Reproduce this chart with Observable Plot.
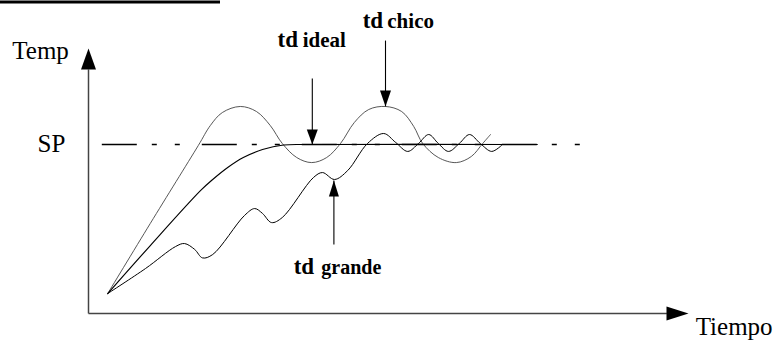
<!DOCTYPE html>
<html>
<head>
<meta charset="utf-8">
<script src="https://cdn.jsdelivr.net/npm/d3@7"></script>
<script src="https://cdn.jsdelivr.net/npm/@observablehq/plot@0.6"></script>
<style>
  html, body { margin: 0; padding: 0; background: #fff; }
  svg { display: block; }
</style>
</head>
<body>
<div id="chart"></div>
<script>
// Time (arbitrary units, axis arrow at 100) and temperature (% of set point, SP = 100)
const chico = [
  [3.2,11.8],[10.3,53.3],[18.3,99.4],[20.3,111.2],[22.3,118.9],[25.3,122.5],[28.0,119.5],
  [30.3,111.2],[32.3,100.6],[34.7,92.3],[37.2,89.3],[39.7,92.3],[42.0,100.6],[44.3,113.0],
  [46.7,120.7],[49.5,122.5],[52.2,119.5],[54.2,110.7],[55.7,100.6],[58.3,92.3],[61.3,89.3],
  [63.8,92.9],[65.7,100.6],[67.0,105.9]
];
const ideal = [
  [3.2,11.8],[10.3,40.2],[18.7,72.8],[20.7,79.3],[23.2,86.4],[25.8,92.3],[29.0,97.0],
  [32.5,99.7],[37.0,100],[74.8,100]
];
const grande = [
  [3.2,11.8],[9.5,26.6],[14.5,39.6],[16.0,41.4],[17.7,37.9],[19.0,32.9],[20.7,34.9],
  [26.0,58.0],[27.7,62.1],[29.0,59.2],[30.5,53.8],[32.3,56.8],[37.5,80.5],[39.0,83.4],
  [41.0,79.3],[43.2,84.6],[46.5,100.6],[49.2,106.5],[51.2,101.2],[53.2,95.9],[55.0,100.6],
  [56.7,105.9],[58.3,100.6],[60.0,95.9],[61.8,100.6],[63.5,105.9],[65.3,100.6],[67.2,95.9],
  [69.0,100]
];
const setPoint = 100;
const spSpan = [2.3, 82.3];
const axisLabels = [
  {x: -12.7, y: 150.3, text: "Temp"},
  {x: -8.5, y: 95.3, text: "SP"},
  {x: 101.2, y: -13.0, text: "Tiempo"}
];
const tdLabels = [
  {x: 31.5, y: 157.4, text: "td"},
  {x: 45.7, y: 169.2, text: "td"},
  {x: 34.2, y: 23.1, text: "td"}
];
const tdNames = [
  {x: 35.7, y: 157.4, text: "ideal", size: 21},
  {x: 49.8, y: 169.2, text: "chico", size: 21},
  {x: 38.8, y: 23.1, text: "grande", size: 20}
];
// annotation arrows: from (x, y1) to tip (x, y2)
const pointers = [
  {x: 37.3, y1: 139.1, y2: 100},
  {x: 49.5, y1: 161.5, y2: 122.5},
  {x: 40.9, y1: 40.8, y2: 78.7}
];
const axesEnd = {x: 100, y: 156.8};

const tri = (w) => ({
  draw(ctx, l) {
    ctx.moveTo(0, -l);
    ctx.lineTo(w / 2, 0);
    ctx.lineTo(-w / 2, 0);
    ctx.closePath();
  }
});

const serif = "Liberation Serif";

const chart = Plot.plot({
  width: 779,
  height: 340,
  margin: 0,
  x: {domain: [0, 100], range: [88, 688], axis: null},
  y: {domain: [0, 100], range: [313, 144], axis: null},
  style: {background: "white"},
  marks: [
    // cropped title underline at top
    Plot.ruleY([184.3], {x1: -14.7, x2: 22, stroke: "black", strokeWidth: 3}),
    // axes
    Plot.link([{x1: 0, y1: 0, x2: 0, y2: axesEnd.y - 12.4}], {x1: "x1", y1: "y1", x2: "x2", y2: "y2", stroke: "#444", strokeWidth: 1.5}),
    Plot.link([{x1: 0, y1: 0, x2: axesEnd.x - 3.6, y2: 0}], {x1: "x1", y1: "y1", x2: "x2", y2: "y2", stroke: "#444", strokeWidth: 1.5}),
    Plot.vector([{x: 0, y: axesEnd.y}], {x: "x", y: "y", rotate: 0, anchor: "end", length: 21, shape: tri(15), fill: "black", stroke: "none"}),
    Plot.vector([{x: axesEnd.x, y: 0}], {x: "x", y: "y", rotate: 90, anchor: "end", length: 22, shape: tri(14), fill: "black", stroke: "none"}),
    // set point dashed line
    Plot.ruleY([setPoint], {x1: spSpan[0], x2: spSpan[1], stroke: "black", strokeWidth: 1.3, strokeDasharray: "35,15,5,18,5,22"}),
    // responses
    Plot.line(chico, {x: d => d[0], y: d => d[1], curve: "catmull-rom", stroke: "#444", strokeWidth: 0.9}),
    Plot.line(ideal, {x: d => d[0], y: d => d[1], curve: "catmull-rom", stroke: "black", strokeWidth: 1.15}),
    Plot.line(grande, {x: d => d[0], y: d => d[1], curve: "catmull-rom", stroke: "black", strokeWidth: 1.0}),
    // pointers
    Plot.link(pointers, {x1: "x", x2: "x", y1: "y1", y2: "y2", stroke: "black", strokeWidth: 1.1}),
    Plot.vector([pointers[0]], {x: "x", y: "y2", rotate: 180, anchor: "end", length: 15, shape: tri(11), fill: "black", stroke: "none"}),
    Plot.vector([pointers[1]], {x: "x", y: "y2", rotate: 180, anchor: "end", length: 16, shape: tri(11), fill: "black", stroke: "none"}),
    Plot.vector([pointers[2]], {x: "x", y: "y2", rotate: 0, anchor: "end", length: 16, shape: tri(10), fill: "black", stroke: "none"}),
    // text
    Plot.text(axisLabels, {x: "x", y: "y", text: "text", textAnchor: "start", lineAnchor: "bottom", fontSize: 25, fontFamily: serif, fill: "black"}),
    Plot.text(tdLabels, {x: "x", y: "y", text: "text", textAnchor: "start", lineAnchor: "bottom", fontSize: 23, fontWeight: "bold", fontFamily: serif, fill: "black"}),
    Plot.text(tdNames.filter(d => d.size === 21), {x: "x", y: "y", text: "text", textAnchor: "start", lineAnchor: "bottom", fontSize: 21, fontWeight: "bold", fontFamily: serif, fill: "black"}),
    Plot.text(tdNames.filter(d => d.size === 20), {x: "x", y: "y", text: "text", textAnchor: "start", lineAnchor: "bottom", fontSize: 20, fontWeight: "bold", fontFamily: serif, fill: "black"})
  ]
});
document.getElementById("chart").appendChild(chart);
</script>
</body>
</html>
